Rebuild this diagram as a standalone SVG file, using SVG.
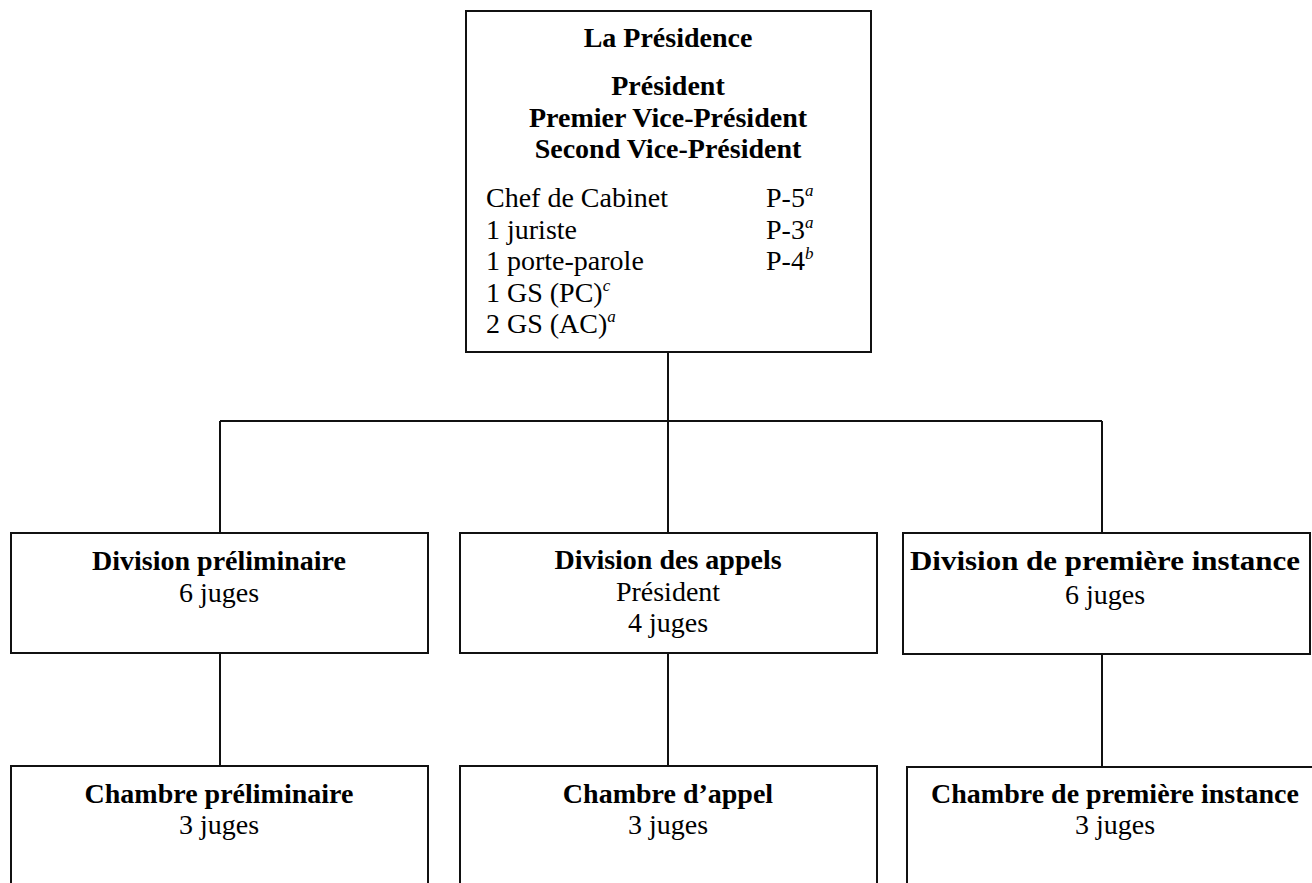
<svg xmlns="http://www.w3.org/2000/svg" width="1312" height="883" viewBox="0 0 1312 883" font-family="'Liberation Serif', 'Times New Roman', Times, 'DejaVu Serif', serif">
<style>
.box{fill:#fff;stroke:#111;stroke-width:2}
.ln{stroke:#111;stroke-width:2;fill:none}
text{font-family:'Liberation Serif', 'Times New Roman', Times, 'DejaVu Serif', serif;font-size:28px;fill:#000}
.b{font-weight:bold}
.c{text-anchor:middle}
.sup{font-style:italic;font-size:17px}
</style>
<rect width="1312" height="883" fill="#fff"/>
<g id="connectors">
<path class="ln" d="M668 352V421M220 421H1102M220 421V533M668 421V533M1102 421V533"/>
<path class="ln" d="M220 653V766M668 653V766M1102 654V767"/>
</g>
<g id="presidence">
<rect class="box" x="466" y="11" width="405" height="341"/>
<text class="b c" x="668" y="47">La Présidence</text>
<text class="b c" x="668" y="95">Président</text>
<text class="b c" x="668" y="127">Premier Vice-Président</text>
<text class="b c" x="668" y="158">Second Vice-Président</text>
<text x="486" y="207">Chef de Cabinet</text>
<text x="766" y="207">P-5<tspan class="sup" dy="-11">a</tspan></text>
<text x="486" y="239">1 juriste</text>
<text x="766" y="239">P-3<tspan class="sup" dy="-11">a</tspan></text>
<text x="486" y="270">1 porte-parole</text>
<text x="766" y="270">P-4<tspan class="sup" dy="-11">b</tspan></text>
<text x="486" y="302">1 GS (PC)<tspan class="sup" dy="-11">c</tspan></text>
<text x="486" y="333">2 GS (AC)<tspan class="sup" dy="-11">a</tspan></text>
</g>
<g id="div-preliminaire">
<rect class="box" x="11" y="533" width="417" height="120"/>
<text class="b c" x="219" y="570">Division préliminaire</text>
<text class="c" x="219" y="602">6 juges</text>
</g>
<g id="div-appels">
<rect class="box" x="460" y="533" width="417" height="120"/>
<text class="b c" x="668" y="569">Division des appels</text>
<text class="c" x="668" y="601">Président</text>
<text class="c" x="668" y="632">4 juges</text>
</g>
<g id="div-premiere-instance">
<rect class="box" x="903" y="533" width="407" height="121"/>
<text class="b c" x="1105" y="570" textLength="390" lengthAdjust="spacingAndGlyphs">Division de première instance</text>
<text class="c" x="1105" y="604">6 juges</text>
</g>
<g id="ch-preliminaire">
<rect class="box" x="11" y="766" width="417" height="140"/>
<text class="b c" x="219" y="803">Chambre préliminaire</text>
<text class="c" x="219" y="834">3 juges</text>
</g>
<g id="ch-appel">
<rect class="box" x="460" y="766" width="417" height="140"/>
<text class="b c" x="668" y="803">Chambre d’appel</text>
<text class="c" x="668" y="834">3 juges</text>
</g>
<g id="ch-premiere-instance">
<rect class="box" x="907" y="767" width="420" height="140"/>
<text class="b c" x="1115" y="803">Chambre de première instance</text>
<text class="c" x="1115" y="834">3 juges</text>
</g>
</svg>
